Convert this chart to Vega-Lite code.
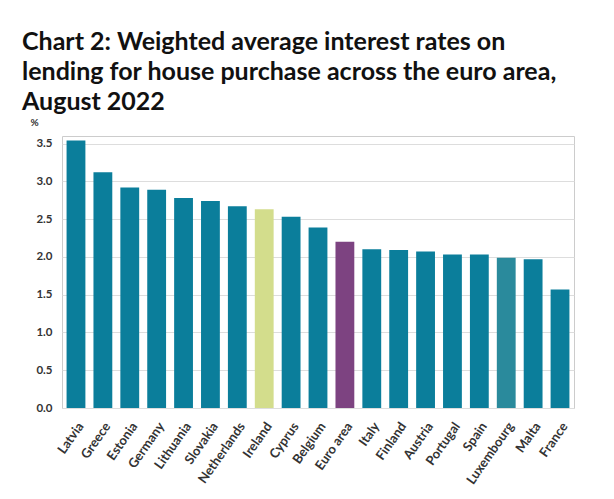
{
  "$schema": "https://vega.github.io/schema/vega-lite/v6.json",
  "autosize": {"type": "none"},
  "width": 512,
  "height": 272,
  "padding": {"left": 62, "top": 136, "right": 40, "bottom": 91},
  "background": "white",
  "title": {
    "text": ["Chart 2: Weighted average interest rates on", "lending for house purchase across the euro area,", "August 2022"],
    "anchor": "start",
    "frame": "group",
    "dx": -40,
    "offset": 2,
    "font": "Lato",
    "fontSize": 25,
    "fontWeight": "bold",
    "color": "#111111",
    "lineHeight": 30
  },
  "config": {
    "view": {"stroke": "#cccccc", "strokeWidth": 1},
    "font": "Lato"
  },
  "data": {
    "values": [
      {"country": "Latvia", "rate": 3.54, "group": "Country"},
      {"country": "Greece", "rate": 3.12, "group": "Country"},
      {"country": "Estonia", "rate": 2.92, "group": "Country"},
      {"country": "Germany", "rate": 2.89, "group": "Country"},
      {"country": "Lithuania", "rate": 2.78, "group": "Country"},
      {"country": "Slovakia", "rate": 2.74, "group": "Country"},
      {"country": "Netherlands", "rate": 2.67, "group": "Country"},
      {"country": "Ireland", "rate": 2.63, "group": "Ireland"},
      {"country": "Cyprus", "rate": 2.53, "group": "Country"},
      {"country": "Belgium", "rate": 2.39, "group": "Country"},
      {"country": "Euro area", "rate": 2.2, "group": "Euro area"},
      {"country": "Italy", "rate": 2.1, "group": "Country"},
      {"country": "Finland", "rate": 2.09, "group": "Country"},
      {"country": "Austria", "rate": 2.07, "group": "Country"},
      {"country": "Portugal", "rate": 2.03, "group": "Country"},
      {"country": "Spain", "rate": 2.03, "group": "Country"},
      {"country": "Luxembourg", "rate": 1.99, "group": "Luxembourg"},
      {"country": "Malta", "rate": 1.97, "group": "Country"},
      {"country": "France", "rate": 1.57, "group": "Country"}
    ]
  },
  "mark": {"type": "bar"},
  "encoding": {
    "x": {
      "field": "country",
      "type": "nominal",
      "sort": null,
      "scale": {"paddingInner": 0.3, "paddingOuter": 0.17},
      "axis": {
        "title": null,
        "labelAngle": -55,
        "labelAlign": "right",
        "labelBaseline": "top",
        "labelFont": "Lato",
        "labelFontSize": 13,
        "labelFontWeight": "bold",
        "labelColor": "#333333",
        "labelPadding": 12,
        "ticks": false,
        "domain": false
      }
    },
    "y": {
      "field": "rate",
      "type": "quantitative",
      "scale": {"domain": [0, 3.6], "nice": false},
      "axis": {
        "title": "%",
        "titleAngle": 0,
        "titleAlign": "left",
        "titleBaseline": "alphabetic",
        "titleX": -32,
        "titleY": -11,
        "titleFont": "Lato",
        "titleFontSize": 10,
        "titleFontWeight": "bold",
        "titleColor": "#333333",
        "values": [0, 0.5, 1, 1.5, 2, 2.5, 3, 3.5],
        "format": ".1f",
        "labelFont": "Lato",
        "labelFontSize": 11.5,
        "labelFontWeight": "bold",
        "labelColor": "#333333",
        "labelPadding": 10,
        "ticks": false,
        "domain": false,
        "gridColor": "#dddddd"
      }
    },
    "color": {
      "field": "group",
      "type": "nominal",
      "scale": {
        "domain": ["Country", "Ireland", "Euro area", "Luxembourg"],
        "range": ["#0b7e9b", "#d3dd8c", "#7d4381", "#2a8a9c"]
      },
      "legend": null
    }
  }
}
